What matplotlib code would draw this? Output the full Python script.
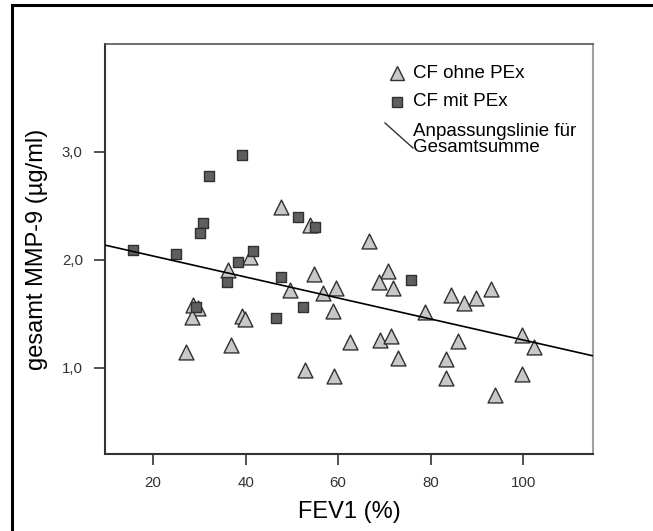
import matplotlib.pyplot as plt
import numpy as np
from matplotlib.lines import Line2D
from matplotlib.patches import Rectangle

# FEV1 (%) and total MMP-9 (µg/ml), CF without pulmonary exacerbation
ohne_fev1 = [47.7, 53.9, 41.0, 36.1, 54.7, 49.5, 56.8, 59.6, 28.7, 29.6,
             28.5, 39.3, 39.8, 27.2, 36.9, 52.9, 66.6, 70.7, 68.8, 71.8,
             58.9, 84.3, 87.3, 89.7, 93.0, 78.7, 99.7, 102.4, 62.6, 69.1,
             71.4, 86.0, 73.0, 83.4, 59.0, 83.4, 99.7, 94.0]
ohne_mmp9 = [2.49, 2.32, 2.03, 1.91, 1.87, 1.72, 1.69, 1.74, 1.58, 1.55,
             1.47, 1.48, 1.45, 1.15, 1.21, 0.98, 2.17, 1.90, 1.79, 1.74,
             1.53, 1.67, 1.60, 1.65, 1.73, 1.52, 1.30, 1.19, 1.24, 1.26,
             1.29, 1.25, 1.09, 1.08, 0.92, 0.90, 0.94, 0.75]

# CF with pulmonary exacerbation
mit_fev1 = [39.3, 32.0, 51.4, 30.7, 30.2, 55.0, 41.5, 38.4, 35.9, 47.6,
            15.6, 24.9, 29.3, 46.5, 52.3, 75.7]
mit_mmp9 = [2.97, 2.78, 2.40, 2.34, 2.25, 2.30, 2.08, 1.98, 1.79, 1.84,
            2.09, 2.05, 1.56, 1.46, 1.56, 1.81]

x_ticks = [20, 40, 60, 80, 100]
y_ticks = [1.0, 2.0, 3.0]
y_tick_labels = ["1,0", "2,0", "3,0"]

W, H = 653, 531
plt.rcParams["font.family"] = ["Liberation Sans", "DejaVu Sans"]

fig = plt.figure(figsize=(W / 100, H / 100), dpi=100)


def fpos(x, y):
    # pixel position (from top-left) to figure fraction
    return x / W, 1 - y / H


ax = fig.add_axes([105 / W, 1 - 454 / H, (593 - 105) / W, (454 - 44) / H])
ax.set_xlim(9.6, 115.1)
ax.set_ylim(0.2, 4.0)

tri_style = dict(marker="^", s=115, facecolor="#c8c8c8", edgecolor="#303030",
                 linewidth=1.0, zorder=3)
sq_style = dict(marker="s", s=62, facecolor="#5f5f5f", edgecolor="#303030",
                linewidth=1.0, zorder=4)

ax.scatter(ohne_fev1, ohne_mmp9, **tri_style)
ax.scatter(mit_fev1, mit_mmp9, **sq_style)

# fit line for all points together
all_x = np.array(ohne_fev1 + mit_fev1)
all_y = np.array(ohne_mmp9 + mit_mmp9)
slope, icpt = np.polyfit(all_x, all_y, 1)
xl = np.array(ax.get_xlim())
ax.plot(xl, icpt + slope * xl, color="black", linewidth=1.2, zorder=5,
        solid_capstyle="butt")

ax.set_xticks(x_ticks)
ax.set_yticks(y_ticks)
ax.set_yticklabels(y_tick_labels)
ax.tick_params(axis="both", direction="out", length=8, width=1.2,
               color="#333333", labelsize=10.8, labelcolor="#333333", pad=8)
ax.set_xlabel("FEV1 (%)", fontsize=17, labelpad=8)
ax.set_ylabel("gesamt MMP-9 (µg/ml)", fontsize=17, labelpad=10)

for side in ["left", "bottom"]:
    ax.spines[side].set_color("#333333")
    ax.spines[side].set_linewidth(1.5)
ax.spines["top"].set_color("#555555")
ax.spines["top"].set_linewidth(1.2)
ax.spines["right"].set_color("#a0a0a0")
ax.spines["right"].set_linewidth(1.5)

# legend, drawn by hand so the fit line sample can be diagonal
x0, y0 = fpos(396.7, 73.3)
fig.add_artist(Line2D([x0], [y0], marker="^", markersize=9.5,
                      markerfacecolor="#c8c8c8", markeredgecolor="#303030",
                      markeredgewidth=1.0, linestyle="none"))
x0, y0 = fpos(396.7, 101.7)
fig.add_artist(Line2D([x0], [y0], marker="s", markersize=7,
                      markerfacecolor="#5f5f5f", markeredgecolor="#303030",
                      markeredgewidth=1.0, linestyle="none"))
xa, ya = fpos(385, 123)
xb, yb = fpos(413, 148)
fig.add_artist(Line2D([xa, xb], [ya, yb], color="#333333", linewidth=1.0))

leg_font = dict(fontsize=13.5, va="center", ha="left")
fig.text(*fpos(413, 73.5), "CF ohne PEx", **leg_font)
fig.text(*fpos(413, 102), "CF mit PEx", **leg_font)
fig.text(*fpos(413, 132), "Anpassungslinie für", **leg_font)
fig.text(*fpos(413, 147.5), "Gesamtsumme", **leg_font)

# outer frame, open to the right and bottom edge
fx, fy = fpos(12, 5)
fig.add_artist(Rectangle((fx, -0.1), 1.2, fy + 0.1, fill=False,
                         edgecolor="black", linewidth=2.2,
                         transform=fig.transFigure))

fig.savefig("out.png", dpi=100)
